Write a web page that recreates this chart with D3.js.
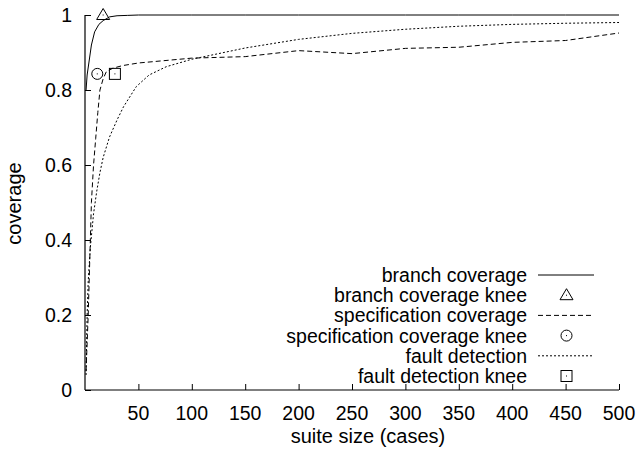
<!DOCTYPE html>
<html>
<head>
<meta charset="utf-8">
<script src="https://cdn.jsdelivr.net/npm/d3@7"></script>
<style>
    body { margin: 0; background: #fff; }
    text { font-family: "Liberation Sans", Arial, sans-serif; font-size: 19.5px; fill: #000; }
    .big { font-size: 20px; }
</style>
</head>
<body>
<div id="main"></div>
<script>
// values: [suite size, coverage]
const branchCoverage = [
    [1, 0.80], [2, 0.84], [4, 0.88], [6, 0.92], [9, 0.955], [13, 0.975],
    [17, 0.985], [23, 0.995], [30, 0.998], [40, 0.999], [50, 1], [100, 1],
    [150, 1], [200, 1], [250, 1], [300, 1], [350, 1], [400, 1], [450, 1], [500, 1]
];

const specCoverage = [
    [1, 0.05], [3, 0.2], [5, 0.4], [6, 0.5], [8, 0.6], [10, 0.67], [12, 0.74],
    [14, 0.8], [17, 0.83], [20, 0.849], [26, 0.858], [35, 0.865], [50, 0.872],
    [100, 0.885], [150, 0.889], [200, 0.905], [250, 0.897], [300, 0.911],
    [350, 0.914], [400, 0.927], [450, 0.932], [500, 0.952]
];

const faultDetection = [
    [1, 0.04], [2, 0.2], [3, 0.29], [5, 0.38], [8, 0.47], [11, 0.53], [14, 0.58],
    [17, 0.62], [23, 0.675], [30, 0.72], [36, 0.755], [48, 0.809], [60, 0.84],
    [76, 0.862], [100, 0.882], [150, 0.912], [200, 0.935], [250, 0.951],
    [300, 0.962], [350, 0.97], [400, 0.975], [450, 0.978], [500, 0.98]
];

const branchKnee = [17, 1.0];
const specKnee = [11.5, 0.843];
const faultKnee = [28, 0.843];

const xTicks = [50, 100, 150, 200, 250, 300, 350, 400, 450, 500];
const yTicks = [0, 0.2, 0.4, 0.6, 0.8, 1];

const legendLabels = [
    "branch coverage",
    "branch coverage knee",
    "specification coverage",
    "specification coverage knee",
    "fault detection",
    "fault detection knee"
];

const W = 637, H = 453;
const svg = d3.select('#main').append('svg')
    .attr('width', W)
    .attr('height', H);

const xScale = d3.scaleLinear().domain([0, 500]).range([85, 619]);
const yScale = d3.scaleLinear().domain([0, 1]).range([390, 15]);

// axes, gnuplot style: ticks point inward
const xAxis = d3.axisTop(xScale).tickValues(xTicks).tickSize(6).tickFormat('');
svg.append('g')
    .attr('transform', 'translate(0,' + yScale(0) + ')')
    .call(xAxis)
    .call(g => g.select('.domain').attr('d', 'M' + xScale(0) + ',0H' + xScale(500)));

const yAxis = d3.axisRight(yScale).tickValues(yTicks).tickSize(6).tickFormat('');
svg.append('g')
    .attr('transform', 'translate(' + xScale(0) + ',0)')
    .call(yAxis)
    .call(g => g.select('.domain').attr('d', 'M0,' + yScale(0) + 'V' + yScale(1)));

svg.selectAll('.tick line').attr('stroke', '#000');
svg.selectAll('.domain').attr('stroke', '#000').attr('stroke-width', 1.2);

svg.selectAll('.xlab')
    .data(xTicks)
    .enter()
    .append('text')
    .attr('x', d => xScale(d))
    .attr('y', 420)
    .attr('text-anchor', 'middle')
    .text(d => d);

svg.selectAll('.ylab')
    .data(yTicks)
    .enter()
    .append('text')
    .attr('x', 72)
    .attr('y', d => yScale(d) + 7)
    .attr('text-anchor', 'end')
    .text(d => d);

svg.append('text')
    .attr('class', 'big')
    .attr('x', 368)
    .attr('y', 443)
    .attr('text-anchor', 'middle')
    .text('suite size (cases)');

svg.append('text')
    .attr('class', 'big')
    .attr('transform', 'translate(21,203.5) rotate(-90)')
    .attr('text-anchor', 'middle')
    .text('coverage');

// lines
const line = d3.line()
    .x(d => xScale(d[0]))
    .y(d => yScale(d[1]));

const styles = [
    {data: branchCoverage, dash: null},
    {data: specCoverage, dash: '5,3'},
    {data: faultDetection, dash: '2,2'}
];

styles.forEach(function (s) {
    svg.append('path')
        .datum(s.data)
        .attr('d', line)
        .attr('fill', 'none')
        .attr('stroke', '#000')
        .attr('stroke-width', 1)
        .attr('stroke-dasharray', s.dash);
});

// knee markers
function marker(kind, cx, cy) {
    const g = svg.append('g').attr('transform', 'translate(' + cx + ',' + cy + ')');
    if (kind === 'triangle') {
        g.append('path').attr('d', 'M0,-6.5L6.5,4.5L-6.5,4.5Z');
    } else if (kind === 'circle') {
        g.append('circle').attr('r', 5.5);
    } else {
        g.append('rect').attr('x', -5.5).attr('y', -5.5).attr('width', 11).attr('height', 11);
    }
    g.selectAll('*').attr('fill', 'none').attr('stroke', '#000').attr('stroke-width', 1);
    g.append('rect').attr('x', -0.5).attr('y', -0.5).attr('width', 1).attr('height', 1).attr('fill', '#000');
}

marker('triangle', xScale(branchKnee[0]), yScale(branchKnee[1]));
marker('circle', xScale(specKnee[0]), yScale(specKnee[1]));
marker('square', xScale(faultKnee[0]), yScale(faultKnee[1]));

// legend
const legendKinds = ['solid', 'triangle', 'dashed', 'circle', 'dotted', 'square'];

legendLabels.forEach(function (label, i) {
    const y = 275 + i * 20.2;
    svg.append('text')
        .attr('x', 527)
        .attr('y', y + 7)
        .attr('text-anchor', 'end')
        .text(label);
    const kind = legendKinds[i];
    if (kind === 'solid' || kind === 'dashed' || kind === 'dotted') {
        svg.append('line')
            .attr('x1', 538).attr('x2', 594)
            .attr('y1', y).attr('y2', y)
            .attr('stroke', '#000')
            .attr('stroke-width', 1)
            .attr('stroke-dasharray', kind === 'dashed' ? '5,3' : kind === 'dotted' ? '2,2' : null);
    } else {
        marker(kind, 566.5, y);
    }
});
</script>
</body>
</html>
